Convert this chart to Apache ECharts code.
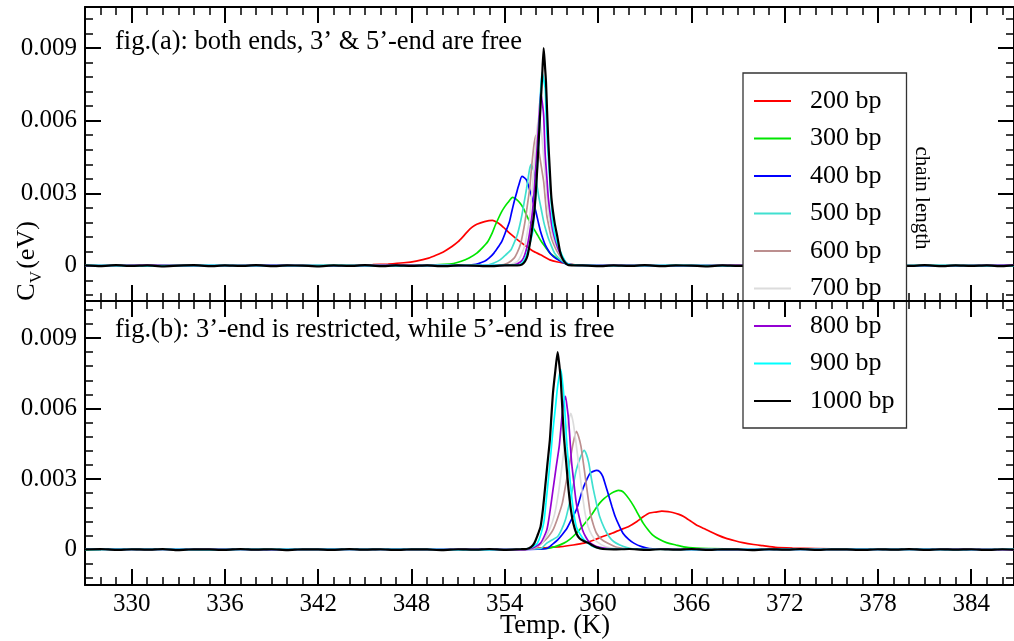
<!DOCTYPE html>
<html>
<head>
<meta charset="utf-8">
<script src="https://cdn.jsdelivr.net/npm/echarts@6/dist/echarts.min.js"></script>
<style>
  html, body { margin: 0; padding: 0; background: #fff; }
  #chart { width: 1014px; height: 641px; }
</style>
</head>
<body>
<div id="chart"></div>
<script>
// Specific heat C_V (eV) vs temperature (K) for DNA chains of different length.
// (a) both ends free, (b) 3'-end restricted.

const chainNames = ['200 bp', '300 bp', '400 bp', '500 bp', '600 bp', '700 bp', '800 bp', '900 bp', '1000 bp'];
const chainColors = ['#ff0000', '#00e600', '#0000ff', '#40e0d0', '#bc8f8f', '#dcdcdc', '#9400d3', '#00ffff', '#000000'];

const xMajorTicks = [330, 336, 342, 348, 354, 360, 366, 372, 378, 384];
const yMajorTicks = [0, 0.003, 0.006, 0.009];

// ---- panel (a): both ends free ----
const topA200 = [[327,0.00002],[330,-0.00001],[333,0.00002],[336,0],[339,0.00002],[342,0.00001],[344,0.00003],[345.5,0.00005],[346.5,0.00008],[347.5,0.00013],[348.3,0.0002],[349.1,0.00032],[349.6,0.00045],[350.1,0.0006],[350.6,0.0008],[351,0.001],[351.3,0.0012],[351.6,0.00142],[351.9,0.0016],[352.2,0.00172],[352.7,0.00183],[353.2,0.00188],[353.6,0.00176],[353.9,0.0016],[354.2,0.00142],[354.5,0.00125],[354.8,0.00109],[355.1,0.00094],[355.4,0.0008],[355.8,0.00062],[356.3,0.00046],[356.9,0.00025],[357.4,0.00016],[357.8,0.00012],[358.6,0.00004],[360,0.00002],[363,0.00001],[366,0.00002],[370,0],[374,0.00002],[378,0.00001],[382,0.00002],[386.75,0.00001]];
const topA300 = [[327,0.00001],[331,0.00002],[335,0],[339,0.00002],[343,0.00001],[347,0.00002],[349,0.00003],[350.1,0.00006],[350.7,0.0001],[351.2,0.00019],[351.7,0.00033],[352.2,0.00053],[352.6,0.00078],[352.9,0.001],[353.2,0.00138],[353.4,0.0017],[353.6,0.00198],[353.8,0.00224],[354.0,0.00245],[354.2,0.00262],[354.5,0.00283],[354.8,0.00272],[355.0,0.00258],[355.2,0.00238],[355.4,0.0021],[355.6,0.00183],[355.85,0.00155],[356.1,0.00128],[356.3,0.00106],[356.5,0.00087],[356.7,0.0007],[356.9,0.00053],[357.2,0.00038],[357.5,0.00025],[358,0.00007],[358.6,0.00003],[360,0.00002],[364,0],[368,0.00002],[372,0.00001],[376,0.00002],[380,0],[384,0.00002],[386.75,0.00001]];
const topA400 = [[327,0],[331,0.00002],[335,0.00001],[339,0.00002],[343,0],[347,0.00002],[350,0.00002],[352,0.00005],[352.7,0.00019],[353.0,0.00033],[353.3,0.00053],[353.6,0.0008],[353.8,0.001],[354.05,0.0014],[354.3,0.00183],[354.45,0.00225],[354.6,0.00265],[354.75,0.003],[354.9,0.00334],[355.1,0.0037],[355.25,0.00365],[355.4,0.00355],[355.55,0.00325],[355.7,0.00293],[355.85,0.00258],[356.0,0.00224],[356.15,0.00182],[356.3,0.00142],[356.45,0.00112],[356.6,0.00087],[356.8,0.00064],[357.0,0.00046],[357.3,0.0003],[357.6,0.00019],[358.1,0.00005],[359,0.00002],[362,0.00001],[366,0.00002],[370,0],[374,0.00002],[378,0.00001],[382,0],[386.75,0.00002]];
const topA500 = [[327,0.00002],[331,0],[335,0.00002],[339,0.00001],[343,0.00002],[347,0],[350,0.00002],[352.9,0.00004],[353.3,0.00012],[353.7,0.00025],[354.05,0.00045],[354.4,0.00067],[354.6,0.00095],[354.8,0.00128],[354.95,0.00165],[355.1,0.0021],[355.25,0.00265],[355.4,0.0032],[355.5,0.00362],[355.6,0.00402],[355.7,0.0042],[355.85,0.00395],[356.0,0.0036],[356.1,0.0032],[356.2,0.0028],[356.35,0.00232],[356.5,0.00183],[356.65,0.00146],[356.8,0.00114],[357.0,0.00082],[357.2,0.00053],[357.5,0.0003],[357.8,0.00015],[358.2,0.00004],[359,0.00002],[362,0.00001],[366,0.00002],[370,0.00001],[374,0.00002],[378,0],[382,0.00002],[386.75,0.00001]];
const topA600 = [[327,0.00001],[331,0.00002],[335,0],[339,0.00002],[343,0.00001],[347,0.00002],[351,0],[353.7,0.00003],[354.2,0.00012],[354.6,0.00032],[354.8,0.00055],[355.0,0.00087],[355.15,0.0013],[355.3,0.00183],[355.45,0.0025],[355.6,0.0032],[355.7,0.00392],[355.8,0.00458],[355.9,0.0051],[356.0,0.0054],[356.1,0.0051],[356.2,0.00471],[356.35,0.0041],[356.5,0.00348],[356.6,0.00278],[356.7,0.0021],[356.85,0.00158],[357.0,0.00114],[357.25,0.00075],[357.5,0.00046],[357.75,0.00024],[358.0,0.0001],[358.6,0.00003],[360,0.00002],[364,0],[368,0.00002],[372,0.00001],[376,0],[380,0.00002],[386.75,0.00001]];
const topA700 = [[327,0.00002],[331,0.00001],[335,0.00002],[339,0],[343,0.00002],[347,0.00001],[351,0.00002],[354.3,0.00004],[354.8,0.00018],[355.05,0.00045],[355.3,0.00087],[355.45,0.0014],[355.6,0.00197],[355.7,0.0027],[355.8,0.00348],[355.9,0.0043],[356.0,0.00512],[356.1,0.0058],[356.2,0.0062],[356.3,0.0058],[356.4,0.00526],[356.5,0.0045],[356.6,0.00375],[356.7,0.003],[356.8,0.00224],[356.95,0.00165],[357.1,0.00114],[357.35,0.00075],[357.6,0.00046],[357.85,0.00022],[358.1,0.00008],[358.8,0.00003],[361,0.00001],[365,0.00002],[369,0],[373,0.00002],[377,0.00001],[381,0.00002],[386.75,0]];
const topA800 = [[327,0.00001],[331,0.00002],[335,0.00001],[339,0.00002],[343,0],[347,0.00002],[351,0.00001],[354.6,0.00004],[355.0,0.00016],[355.2,0.00032],[355.35,0.0006],[355.5,0.001],[355.65,0.0016],[355.8,0.00238],[355.9,0.0032],[356.0,0.00416],[356.1,0.0051],[356.2,0.00608],[356.3,0.00718],[356.4,0.0068],[356.5,0.00622],[356.55,0.0054],[356.6,0.00458],[356.7,0.0037],[356.8,0.0028],[356.95,0.002],[357.1,0.00142],[357.3,0.00095],[357.5,0.0006],[357.75,0.0003],[358.0,0.0001],[358.7,0.00003],[361,0.00002],[365,0],[369,0.00002],[373,0.00001],[377,0.00002],[381,0],[386.75,0.00002]];
const topA900 = [[327,0.00002],[331,0],[335,0.00002],[339,0.00001],[343,0.00002],[347,0],[351,0.00002],[354.9,0.00004],[355.2,0.00018],[355.4,0.00046],[355.6,0.0009],[355.8,0.00142],[355.9,0.0022],[356.0,0.00307],[356.1,0.0042],[356.2,0.00526],[356.3,0.00718],[356.4,0.008],[356.5,0.0077],[356.6,0.00732],[356.65,0.0064],[356.7,0.00553],[356.8,0.0045],[356.9,0.00348],[357.0,0.0025],[357.1,0.0017],[357.3,0.0011],[357.5,0.00073],[357.75,0.00035],[358.0,0.0001],[358.7,0.00003],[361,0.00001],[365,0.00002],[369,0],[373,0.00002],[377,0.00001],[381,0.00002],[386.75,0]];
const topA1000 = [[327,0.00002],[328,-0.00001],[329,0.00003],[330,0],[331,0.00002],[332,-0.00002],[333,0.00001],[334,0.00003],[335,-0.00001],[336,0.00002],[337,0],[338,0.00003],[339,-0.00001],[340,0.00002],[341,0.00001],[342,-0.00002],[343,0.00002],[344,0],[345,0.00003],[346,-0.00001],[347,0.00002],[348,0],[349,0.00002],[350,-0.00001],[351,0.00002],[352,0.00001],[353,-0.00001],[354,0.00002],[354.8,0.00002],[355.1,0.00006],[355.3,0.00019],[355.45,0.0004],[355.6,0.00087],[355.75,0.0015],[355.9,0.00224],[356.0,0.0031],[356.1,0.00416],[356.2,0.0054],[356.3,0.00663],[356.4,0.0078],[356.5,0.009],[356.58,0.0083],[356.65,0.00759],[356.72,0.0064],[356.8,0.00512],[356.9,0.0039],[357.0,0.0028],[357.2,0.0018],[357.4,0.00114],[357.55,0.0006],[357.7,0.00032],[357.9,0.00012],[358.1,0.00003],[359,0.00002],[360,-0.00001],[361,0.00002],[362,0],[363,0.00003],[364,-0.00001],[365,0.00002],[366,0.00001],[367,-0.00002],[368,0.00002],[369,0],[370,0.00003],[371,-0.00001],[372,0.00002],[373,0],[374,0.00002],[375,-0.00001],[376,0.00002],[377,0.00001],[378,-0.00001],[379,0.00002],[380,0],[381,0.00003],[382,-0.00001],[383,0.00002],[384,0],[385,0.00002],[386,-0.00001],[386.75,0.00002]];

// ---- panel (b): 3'-end restricted, 5'-end free ----
const botB200 = [[327,0.00002],[331,0],[335,0.00002],[339,0.00001],[343,0.00002],[347,0],[351,0.00002],[354,0.00001],[355.4,0.00003],[356.5,0.00008],[357.6,0.00013],[358.4,0.0002],[359.1,0.00028],[359.7,0.0004],[360.3,0.00056],[360.9,0.0007],[361.4,0.00084],[362.0,0.001],[362.5,0.0012],[362.9,0.0014],[363.3,0.00156],[363.7,0.0016],[364.1,0.00164],[364.5,0.00162],[364.8,0.00158],[365.2,0.0015],[365.5,0.00141],[365.9,0.00124],[366.3,0.00106],[366.8,0.0009],[367.2,0.00077],[367.7,0.00062],[368.2,0.00049],[368.8,0.00038],[369.3,0.0003],[370,0.00022],[370.6,0.00017],[371.4,0.0001],[372.5,0.00007],[374,0.00005],[376,0.00003],[378,0.00002],[382,0],[386.75,0.00002]];
const botB300 = [[327,0.00001],[331,0.00002],[335,0],[339,0.00002],[343,0.00001],[347,0.00002],[351,0],[355,0.00002],[356.5,0.00004],[357.2,0.00012],[357.8,0.00028],[358.2,0.00045],[358.6,0.0007],[359.0,0.001],[359.5,0.00141],[359.8,0.0017],[360.1,0.00198],[360.4,0.00218],[360.7,0.00233],[361.0,0.00245],[361.3,0.00252],[361.5,0.0025],[361.7,0.0024],[362.0,0.00215],[362.3,0.00184],[362.6,0.00148],[362.9,0.00113],[363.2,0.00086],[363.5,0.00063],[363.9,0.00045],[364.4,0.0003],[365.0,0.0002],[365.5,0.00012],[366.3,0.00007],[367.2,0.00005],[369,0.00002],[372,0.00001],[376,0.00002],[380,0],[384,0.00002],[386.75,0.00001]];
const botB400 = [[327,0.00002],[331,0.00001],[335,0.00002],[339,0],[343,0.00002],[347,0.00001],[351,0.00002],[355,0.00001],[356.7,0.00005],[357.1,0.00025],[357.4,0.00042],[357.7,0.00065],[358.0,0.00091],[358.3,0.0013],[358.6,0.0017],[358.8,0.0021],[359.0,0.00255],[359.25,0.00295],[359.5,0.00326],[359.9,0.00337],[360.1,0.00332],[360.3,0.00312],[360.5,0.0027],[360.7,0.00226],[360.9,0.00182],[361.1,0.00141],[361.35,0.00103],[361.6,0.0007],[361.95,0.00045],[362.3,0.00028],[362.8,0.00013],[363.3,0.00005],[365,0.00002],[368,0],[372,0.00002],[376,0.00001],[380,0.00002],[384,0],[386.75,0.00002]];
const botB500 = [[327,0.00001],[331,0.00002],[335,0],[339,0.00002],[343,0.00001],[347,0.00002],[351,0],[355,0.00002],[356.3,0.00005],[356.7,0.00028],[357.0,0.0004],[357.4,0.00056],[357.65,0.00085],[357.9,0.00127],[358.1,0.0018],[358.3,0.0024],[358.45,0.0029],[358.6,0.0034],[358.85,0.0039],[359.1,0.00422],[359.25,0.00405],[359.4,0.00369],[359.55,0.0031],[359.7,0.00255],[359.9,0.00195],[360.1,0.00141],[360.4,0.00092],[360.7,0.00056],[361.0,0.00035],[361.4,0.0002],[361.8,0.0001],[362.3,0.00003],[364,0.00002],[368,0],[372,0.00002],[376,0.00001],[380,0.00002],[386.75,0]];
const botB600 = [[327,0.00002],[331,0],[335,0.00002],[339,0.00001],[343,0.00002],[347,0],[351,0.00002],[355,0.00001],[355.9,0.00005],[356.5,0.00035],[356.8,0.00055],[357.1,0.00084],[357.4,0.00135],[357.7,0.00198],[357.9,0.0027],[358.1,0.0034],[358.25,0.004],[358.4,0.00454],[358.6,0.00503],[358.75,0.0048],[358.9,0.00439],[359.05,0.0037],[359.2,0.00297],[359.35,0.00225],[359.5,0.00155],[359.7,0.00105],[359.9,0.0007],[360.2,0.00045],[360.6,0.00028],[361.2,0.0001],[362,0.00003],[364,0.00002],[368,0.00001],[372,0.00002],[376,0],[380,0.00002],[386.75,0.00001]];
const botB700 = [[327,0.00001],[331,0.00002],[335,0.00001],[339,0.00002],[343,0],[347,0.00002],[351,0.00001],[355,0.00002],[355.8,0.00006],[356.4,0.0003],[356.9,0.0009],[357.2,0.0015],[357.45,0.0024],[357.65,0.0034],[357.8,0.0042],[357.95,0.005],[358.1,0.0055],[358.25,0.0058],[358.4,0.0054],[358.55,0.0047],[358.7,0.0039],[358.85,0.0031],[359.0,0.0023],[359.15,0.0016],[359.35,0.001],[359.6,0.00062],[359.9,0.00035],[360.5,0.00012],[361.5,0.00003],[364,0.00002],[368,0],[372,0.00002],[376,0.00001],[380,0.00002],[386.75,0]];
const botB800 = [[327,0.00002],[331,0.00001],[335,0.00002],[339,0],[343,0.00002],[347,0.00001],[351,0.00002],[355,0],[355.7,0.00005],[356.3,0.00028],[356.7,0.00084],[356.9,0.0016],[357.1,0.00255],[357.3,0.0035],[357.5,0.00439],[357.6,0.0051],[357.7,0.00582],[357.8,0.0063],[357.9,0.00652],[358.0,0.0061],[358.1,0.00553],[358.2,0.0046],[358.3,0.00369],[358.45,0.0028],[358.6,0.00198],[358.8,0.00135],[359.0,0.00084],[359.2,0.00055],[359.4,0.00035],[359.7,0.0002],[360.1,0.0001],[361,0.00003],[364,0.00002],[368,0],[372,0.00002],[376,0.00001],[380,0.00002],[386.75,0]];
const botB900 = [[327,0.00001],[331,0.00002],[335,0],[339,0.00002],[343,0.00001],[347,0.00002],[351,0],[355,0.00002],[355.6,0.00006],[356.1,0.00028],[356.5,0.00113],[356.65,0.002],[356.8,0.00297],[356.95,0.004],[357.1,0.0051],[357.25,0.006],[357.4,0.00695],[357.6,0.00766],[357.7,0.0072],[357.8,0.00652],[357.9,0.0055],[358.0,0.00439],[358.15,0.0033],[358.3,0.00226],[358.45,0.0015],[358.6,0.00098],[358.85,0.00065],[359.1,0.00042],[359.4,0.00025],[359.7,0.00013],[360.3,0.00004],[363,0.00002],[367,0],[371,0.00002],[375,0.00001],[379,0.00002],[383,0],[386.75,0.00002]];
const botB1000 = [[327,0.00001],[328,0.00003],[329,-0.00001],[330,0.00002],[331,0],[332,0.00003],[333,-0.00002],[334,0.00002],[335,0.00001],[336,-0.00001],[337,0.00003],[338,0],[339,0.00002],[340,-0.00002],[341,0.00002],[342,0.00001],[343,-0.00001],[344,0.00003],[345,0],[346,0.00002],[347,-0.00001],[348,0.00002],[349,0.00001],[350,-0.00002],[351,0.00002],[352,0],[353,0.00003],[354,-0.00001],[355,0.00002],[355.4,0.00003],[355.7,0.00012],[355.9,0.00028],[356.1,0.0006],[356.3,0.00098],[356.45,0.0017],[356.6,0.00269],[356.75,0.0037],[356.9,0.00468],[357.0,0.0057],[357.1,0.00667],[357.25,0.0076],[357.4,0.0084],[357.5,0.0079],[357.6,0.00723],[357.7,0.006],[357.8,0.00482],[357.95,0.0037],[358.1,0.00255],[358.25,0.0017],[358.4,0.00113],[358.6,0.0007],[358.8,0.00049],[359.1,0.00036],[359.4,0.00028],[359.65,0.00018],[359.9,0.0001],[360.3,0.00003],[361,0.00001],[362,0.00003],[363,-0.00001],[364,0.00002],[365,0],[366,0.00003],[367,-0.00001],[368,0.00002],[369,0.00001],[370,-0.00002],[371,0.00002],[372,0],[373,0.00003],[374,-0.00001],[375,0.00002],[376,0.00001],[377,-0.00001],[378,0.00002],[379,0],[380,0.00003],[381,-0.00001],[382,0.00002],[383,0],[384,0.00002],[385,-0.00001],[386,0.00002],[386.75,0]];

const panelA = [topA200, topA300, topA400, topA500, topA600, topA700, topA800, topA900, topA1000];
const panelB = [botB200, botB300, botB400, botB500, botB600, botB700, botB800, botB900, botB1000];

const FONT = "'Liberation Serif', 'DejaVu Serif', serif";
const X_MIN = 327, X_MAX = 386.75;
const Y_RANGE_A = [-0.00145, 0.0107];
const Y_RANGE_B = [-0.0015, 0.01057];

// minor tick positions: every 1 K on x, every 0.0006 eV on y
const xMinorTicks = [];
for (let t = 327; t <= 386; t++) xMinorTicks.push(t);
const yMinorTicks = [];
for (let i = -2; i <= 17; i++) yMinorTicks.push(Math.round(i * 6) / 10000);

function xAxisDef(grid, pos, ticks, len, width, extra) {
  return Object.assign({
    type: 'value', gridIndex: grid, position: pos, min: X_MIN, max: X_MAX,
    axisLine: { show: len > 10, onZero: false, lineStyle: { color: '#000', width: 2 } },
    axisTick: { show: true, inside: true, length: len, customValues: ticks, lineStyle: { color: '#000', width: width } },
    axisLabel: { show: false },
    splitLine: { show: false }
  }, extra || {});
}
function yAxisDef(grid, pos, ticks, len, width, extra) {
  const r = grid === 0 ? Y_RANGE_A : Y_RANGE_B;
  return Object.assign({
    type: 'value', gridIndex: grid, position: pos, min: r[0], max: r[1],
    axisLine: { show: len > 10, onZero: false, lineStyle: { color: '#000', width: 2 } },
    axisTick: { show: true, inside: true, length: len, customValues: ticks, lineStyle: { color: '#000', width: width } },
    axisLabel: { show: false },
    splitLine: { show: false }
  }, extra || {});
}

const yLabel = {
  axisLabel: {
    show: true, customValues: yMajorTicks, margin: 8,
    fontFamily: FONT, fontSize: 25, color: '#000',
    formatter: v => (Math.abs(v) < 1e-12 ? '0' : v.toFixed(3))
  }
};

const xAxes = [
  xAxisDef(0, 'bottom', xMajorTicks, 16, 2),            // 0: panel (a) bottom
  xAxisDef(0, 'bottom', xMinorTicks, 8, 1.5),           // 1
  xAxisDef(0, 'top', xMajorTicks, 16, 2),               // 2: panel (a) top
  xAxisDef(0, 'top', xMinorTicks, 8, 1.5),              // 3
  xAxisDef(1, 'top', xMajorTicks, 16, 2, { z: 6 }),     // 4: panel (b) top, drawn over the legend
  xAxisDef(1, 'top', xMinorTicks, 8, 1.5, { z: 6 }),    // 5
  xAxisDef(1, 'bottom', xMajorTicks, 16, 2, {           // 6: panel (b) bottom with labels
    axisLabel: { show: true, customValues: xMajorTicks, margin: 7, fontFamily: FONT, fontSize: 25, color: '#000' }
  }),
  xAxisDef(1, 'bottom', xMinorTicks, 8, 1.5)            // 7
];

const yAxes = [
  yAxisDef(0, 'left', yMajorTicks, 16, 2, yLabel),      // 0
  yAxisDef(0, 'left', yMinorTicks, 8, 1.5),             // 1
  yAxisDef(0, 'right', yMajorTicks, 16, 2),             // 2
  yAxisDef(0, 'right', yMinorTicks, 8, 1.5),            // 3
  yAxisDef(1, 'left', yMajorTicks, 16, 2, yLabel),      // 4
  yAxisDef(1, 'left', yMinorTicks, 8, 1.5),             // 5
  yAxisDef(1, 'right', yMajorTicks, 16, 2),             // 6
  yAxisDef(1, 'right', yMinorTicks, 8, 1.5)             // 7
];

const series = [];
function addPanel(dataList, xi, yi) {
  dataList.forEach((d, i) => {
    series.push({
      type: 'line', name: chainNames[i], xAxisIndex: xi, yAxisIndex: yi,
      data: d, symbol: 'none', showSymbol: false, smooth: 0.2,
      lineStyle: { color: chainColors[i], width: i === 8 ? 2.2 : 1.7 },
      itemStyle: { color: chainColors[i] },
      z: 2 + i * 0.01, animation: false
    });
  });
}
addPanel(panelA, 0, 0);
addPanel(panelB, 6, 4);

const chart = echarts.init(document.getElementById('chart'), null, { renderer: 'canvas' });
chart.setOption({
  backgroundColor: '#fff',
  animation: false,
  grid: [
    { left: 85, top: 7, width: 934, height: 294 },
    { left: 85, top: 301, width: 934, height: 284 }
  ],
  xAxis: xAxes,
  yAxis: yAxes,
  legend: {
    data: chainNames, orient: 'vertical', left: 743, top: 73,
    icon: 'rect', itemWidth: 37, itemHeight: 2, itemGap: 11.5,
    padding: [15, 12, 14, 11],
    backgroundColor: '#fff', borderColor: '#333', borderWidth: 1.3,
    selectedMode: false, z: 4,
    formatter: '{n|{name}}',
    textStyle: { rich: { n: { fontFamily: FONT, fontSize: 26, lineHeight: 26, color: '#000', padding: [0, 0, 0, 14] } } }
  },
  graphic: [
    { type: 'text', x: 115, y: 42, z: 10,
      style: { text: 'fig.(a): both ends, 3\u2019 & 5\u2019-end are free', fontFamily: FONT, fontSize: 26.5, fill: '#000', verticalAlign: 'middle' } },
    { type: 'text', x: 115, y: 330, z: 10,
      style: { text: 'fig.(b): 3\u2019-end is restricted, while 5\u2019-end is free', fontFamily: FONT, fontSize: 26.5, fill: '#000', verticalAlign: 'middle' } },
    { type: 'text', x: 922, y: 198, rotation: -Math.PI / 2, z: 10,
      style: { text: 'chain length', fontFamily: FONT, fontSize: 21, fill: '#000', align: 'center', verticalAlign: 'middle' } },
    { type: 'text', x: 555, y: 626, z: 10,
      style: { text: 'Temp. (K)', fontFamily: FONT, fontSize: 26.5, fill: '#000', align: 'center', verticalAlign: 'middle' } },
    { type: 'text', x: 27, y: 292, rotation: Math.PI / 2, z: 10,
      style: { text: 'C', fontFamily: FONT, fontSize: 26, fill: '#000', align: 'center', verticalAlign: 'middle' } },
    { type: 'text', x: 37, y: 277, rotation: Math.PI / 2, z: 10,
      style: { text: 'V', fontFamily: FONT, fontSize: 17, fill: '#000', align: 'center', verticalAlign: 'middle' } },
    { type: 'text', x: 27, y: 245, rotation: Math.PI / 2, z: 10,
      style: { text: '(eV)', fontFamily: FONT, fontSize: 26, fill: '#000', align: 'center', verticalAlign: 'middle' } }
  ],
  series: series
});
</script>
</body>
</html>
